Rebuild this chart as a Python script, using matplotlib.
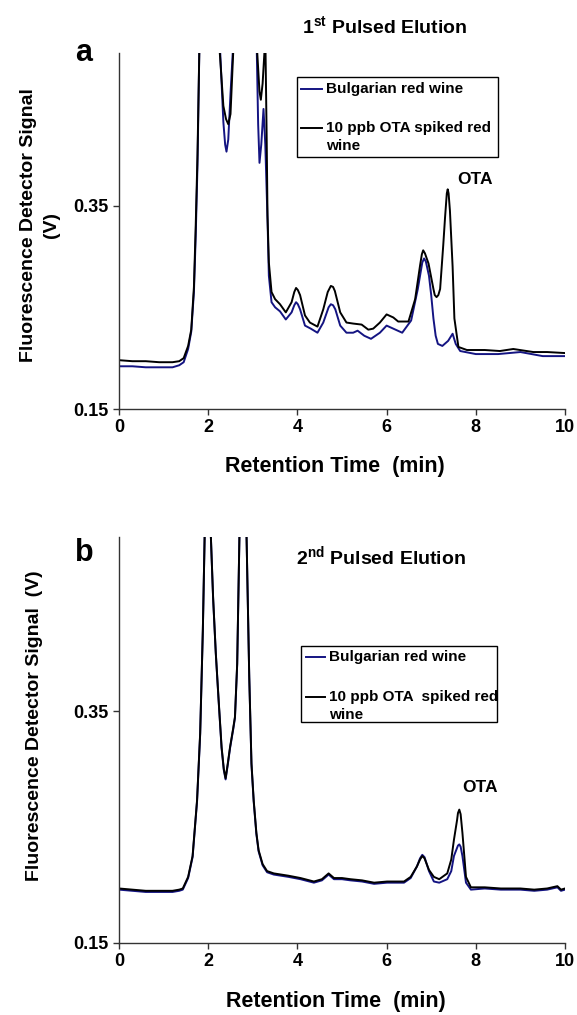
import matplotlib
matplotlib.use("Agg")
import matplotlib.pyplot as plt
from matplotlib.lines import Line2D
from matplotlib.patches import Rectangle

plt.rcParams['font.family'] = ['Liberation Sans', 'DejaVu Sans']
plt.rcParams['font.weight'] = 'bold'
plt.rcParams['mathtext.fontset'] = 'custom'
plt.rcParams['mathtext.rm'] = 'Liberation Sans:bold'
plt.rcParams['mathtext.bf'] = 'Liberation Sans:bold'

# ---- panel a : 1st pulsed elution ----
t_a_spiked = [0, 0.3, 0.6, 0.9, 1.2, 1.35, 1.45, 1.55, 1.62, 1.68, 1.72, 1.76, 1.80, 1.9, 2.0,
              2.15, 2.26, 2.34, 2.40, 2.45, 2.50, 2.56, 2.65, 2.8, 3.0, 3.10, 3.15, 3.18, 3.22,
              3.26, 3.28, 3.31, 3.33, 3.36, 3.42, 3.50, 3.61, 3.74, 3.87, 3.93, 3.97, 4.01, 4.06,
              4.17, 4.28, 4.45, 4.58, 4.68, 4.75, 4.80, 4.84, 4.96, 5.10, 5.25, 5.44, 5.59, 5.70,
              5.85, 6.00, 6.15, 6.26, 6.49, 6.64, 6.75, 6.79, 6.82, 6.86, 6.94, 7.05, 7.08, 7.12,
              7.16, 7.20, 7.27, 7.31, 7.35, 7.37, 7.39, 7.42, 7.48, 7.52, 7.61, 7.80, 8.2, 8.54,
              8.84, 9.29, 9.6, 10.0]
v_a_spiked = [0.198, 0.197, 0.197, 0.196, 0.196, 0.197, 0.200, 0.212, 0.228, 0.27, 0.33, 0.40, 0.50,
              0.62, 0.66, 0.60, 0.50, 0.448, 0.435, 0.430, 0.44, 0.50, 0.60, 0.66, 0.60, 0.50, 0.462,
              0.454, 0.47, 0.50, 0.52, 0.42, 0.34, 0.294, 0.265, 0.258, 0.253, 0.245, 0.255, 0.265,
              0.269, 0.267, 0.262, 0.242, 0.235, 0.231, 0.248, 0.265, 0.271, 0.270, 0.266, 0.245,
              0.235, 0.234, 0.233, 0.228, 0.229, 0.235, 0.243, 0.240, 0.236, 0.236, 0.258, 0.291,
              0.302, 0.306, 0.303, 0.293, 0.268, 0.262, 0.260, 0.262, 0.268, 0.311, 0.338, 0.362,
              0.366, 0.362, 0.345, 0.29, 0.239, 0.211, 0.208, 0.208, 0.207, 0.209, 0.206, 0.206,
              0.205]

t_a_wine = [0, 0.3, 0.6, 0.9, 1.2, 1.35, 1.45, 1.55, 1.62, 1.68, 1.72, 1.76, 1.80, 1.9, 2.0, 2.15,
            2.27, 2.34, 2.38, 2.41, 2.45, 2.50, 2.55, 2.65, 2.8, 3.0, 3.09, 3.12, 3.15, 3.19, 3.24,
            3.28, 3.33, 3.36, 3.42, 3.50, 3.61, 3.74, 3.87, 3.93, 3.97, 4.01, 4.06, 4.17, 4.30, 4.45,
            4.58, 4.70, 4.75, 4.80, 4.85, 4.96, 5.10, 5.25, 5.35, 5.50, 5.65, 5.85, 6.00, 6.15, 6.35,
            6.55, 6.70, 6.80, 6.84, 6.88, 6.95, 7.00, 7.05, 7.10, 7.15, 7.25, 7.38, 7.48, 7.55, 7.65,
            8.0, 8.5, 9.0, 9.5, 10.0]
v_a_wine = [0.192, 0.192, 0.191, 0.191, 0.191, 0.193, 0.196, 0.209, 0.226, 0.265, 0.32, 0.39, 0.50,
            0.61, 0.65, 0.59, 0.50, 0.432, 0.41, 0.403, 0.415, 0.46, 0.50, 0.59, 0.64, 0.58, 0.50,
            0.43, 0.392, 0.41, 0.445, 0.41, 0.336, 0.281, 0.255, 0.250, 0.246, 0.238, 0.245, 0.252,
            0.255, 0.253, 0.248, 0.232, 0.229, 0.225, 0.235, 0.250, 0.253, 0.252, 0.248, 0.232,
            0.225, 0.225, 0.227, 0.222, 0.219, 0.225, 0.232, 0.229, 0.225, 0.237, 0.268, 0.294,
            0.298, 0.295, 0.281, 0.262, 0.239, 0.222, 0.214, 0.212, 0.217, 0.224, 0.214, 0.207,
            0.204, 0.204, 0.206, 0.202, 0.202]

# ---- panel b : 2nd pulsed elution ----
t_b = [0, 0.3, 0.6, 0.9, 1.2, 1.35, 1.43, 1.55, 1.65, 1.75, 1.82, 1.88, 1.92, 2.0, 2.06, 2.11,
       2.17, 2.23, 2.30, 2.35, 2.39, 2.44, 2.49, 2.56, 2.60, 2.65, 2.70, 2.78, 2.86, 2.92, 2.97,
       3.02, 3.08, 3.13, 3.22, 3.32, 3.47, 3.8, 4.07, 4.37, 4.55, 4.70, 4.82, 5.0, 5.19, 5.45,
       5.72, 6.01, 6.39, 6.54, 6.68, 6.75, 6.80, 6.85, 6.95, 7.06, 7.18, 7.36, 7.45, 7.51, 7.58,
       7.60, 7.63, 7.66, 7.70, 7.78, 7.89, 8.2, 8.56, 9.0, 9.31, 9.6, 9.83, 9.91, 10.0]
v_b_spiked = [0.197, 0.196, 0.195, 0.195, 0.195, 0.196, 0.197, 0.207, 0.225, 0.273, 0.331, 0.42,
              0.50, 0.60, 0.50, 0.448, 0.40, 0.362, 0.319, 0.300, 0.292, 0.305, 0.319, 0.335,
              0.345, 0.391, 0.50, 0.60, 0.50, 0.38, 0.305, 0.273, 0.245, 0.230, 0.218, 0.212,
              0.210, 0.208, 0.206, 0.203, 0.205, 0.210, 0.206, 0.206, 0.205, 0.204, 0.202, 0.203,
              0.203, 0.207, 0.216, 0.222, 0.225, 0.223, 0.213, 0.207, 0.205, 0.210, 0.222, 0.239,
              0.256, 0.262, 0.265, 0.261, 0.245, 0.207, 0.198, 0.198, 0.197, 0.197, 0.196, 0.197,
              0.199, 0.196, 0.197]
v_b_wine = [0.196, 0.195, 0.194, 0.194, 0.194, 0.195, 0.196, 0.206, 0.224, 0.272, 0.330, 0.42,
            0.50, 0.60, 0.50, 0.447, 0.40, 0.361, 0.318, 0.299, 0.291, 0.304, 0.318, 0.334,
            0.344, 0.390, 0.50, 0.60, 0.50, 0.38, 0.304, 0.272, 0.244, 0.229, 0.217, 0.211,
            0.209, 0.207, 0.205, 0.202, 0.204, 0.209, 0.205, 0.205, 0.204, 0.203, 0.201, 0.202,
            0.202, 0.206, 0.216, 0.223, 0.226, 0.224, 0.212, 0.203, 0.202, 0.205, 0.212, 0.225,
            0.232, 0.234, 0.235, 0.233, 0.225, 0.202, 0.196, 0.197, 0.196, 0.196, 0.195, 0.196,
            0.198, 0.195, 0.196]

x_ticks = [0, 2, 4, 6, 8, 10]
y_ticks = [0.15, 0.35]
labels = ['Bulgarian red wine', '10 ppb OTA spiked red\nwine']

W, H = 577, 1015
BLUE = '#141482'


def fx(x):
    return x / W


def fy(y):
    return 1 - y / H


fig = plt.figure(figsize=(W / 100, H / 100), dpi=100)
ax_a = fig.add_axes([fx(119), fy(409), fx(565) - fx(119), fy(53) - fy(409)])
ax_b = fig.add_axes([fx(119), fy(943), fx(565) - fx(119), fy(537) - fy(943)])

ax_a.plot(t_a_wine, v_a_wine, color=BLUE, lw=1.4, solid_joinstyle='round')
ax_a.plot(t_a_spiked, v_a_spiked, color='black', lw=1.4, solid_joinstyle='round')
ax_b.plot(t_b, v_b_wine, color=BLUE, lw=1.4, solid_joinstyle='round')
ax_b.plot(t_b, v_b_spiked, color='black', lw=1.4, solid_joinstyle='round')

for ax in (ax_a, ax_b):
    ax.set_xlim(0, 10)
    ax.set_ylim(0.15, 0.50)
    ax.set_xticks(x_ticks)
    ax.set_yticks(y_ticks)
    ax.set_yticklabels(['0.15', '0.35'])
    ax.spines['top'].set_visible(False)
    ax.spines['right'].set_visible(False)
    for s in ('left', 'bottom'):
        ax.spines[s].set_color('#333333')
        ax.spines[s].set_linewidth(1.0)
    ax.tick_params(direction='out', length=4.5, width=1.0, color='#333333',
                   labelsize=13, pad=3)
    for lab in ax.get_xticklabels() + ax.get_yticklabels():
        lab.set_fontweight('bold')

# axis titles / labels
fig.text(fx(40), fy(225), 'Fluorescence Detector Signal\n(V)', rotation=90,
         ha='center', va='center', fontsize=14, fontweight='bold',
         multialignment='center', linespacing=1.45)
fig.text(fx(35), fy(726), 'Fluorescence Detector Signal  (V)', rotation=90,
         ha='center', va='center', fontsize=14, fontweight='bold')
fig.text(fx(335), fy(466), 'Retention Time  (min)', ha='center', va='center',
         fontsize=15.5, fontweight='bold')
fig.text(fx(336), fy(1002), 'Retention Time  (min)', ha='center', va='center',
         fontsize=15.5, fontweight='bold')

fig.text(fx(385), fy(27), r'1$^{\mathbf{st}}$ Pulsed Elution', ha='center', va='center',
         fontsize=14, fontweight='bold')
fig.text(fx(381), fy(557), r'2$^{\mathbf{nd}}$ Pulsed Elution', ha='center', va='center',
         fontsize=14, fontweight='bold')

fig.text(fx(84), fy(53), 'a', ha='center', va='center', fontsize=22, fontweight='bold')
fig.text(fx(84), fy(553), 'b', ha='center', va='center', fontsize=22, fontweight='bold')

fig.text(fx(475), fy(180), 'OTA', ha='center', va='center', fontsize=12.5, fontweight='bold')
fig.text(fx(480), fy(788), 'OTA', ha='center', va='center', fontsize=12.5, fontweight='bold')


def draw_legend(box, y1, y2, hx, tx, second):
    x0, y0, x1, yb = box
    fig.add_artist(Rectangle((fx(x0), fy(yb)), fx(x1) - fx(x0), fy(y0) - fy(yb),
                             transform=fig.transFigure, fill=False, edgecolor='black', lw=1.0))
    fig.add_artist(Line2D([fx(hx[0]), fx(hx[1])], [fy(y1), fy(y1)], color=BLUE, lw=1.4,
                          transform=fig.transFigure))
    fig.add_artist(Line2D([fx(hx[0]), fx(hx[1])], [fy(y2), fy(y2)], color='black', lw=1.4,
                          transform=fig.transFigure))
    fig.text(fx(tx), fy(y1), labels[0], ha='left', va='center', fontsize=11, fontweight='bold')
    first, rest = second.split('\n')
    fig.text(fx(tx), fy(y2), first, ha='left', va='center', fontsize=11, fontweight='bold')
    fig.text(fx(tx), fy(y2 + 18), rest, ha='left', va='center', fontsize=11, fontweight='bold')


draw_legend((296.7, 77.3, 498.3, 156.7), 89, 128.3, (301, 322), 325.7, labels[1])
draw_legend((300.7, 646, 497.3, 722), 657.3, 696.7, (306, 325), 329.3,
            '10 ppb OTA  spiked red\nwine')

fig.savefig('out.png', dpi=100)
